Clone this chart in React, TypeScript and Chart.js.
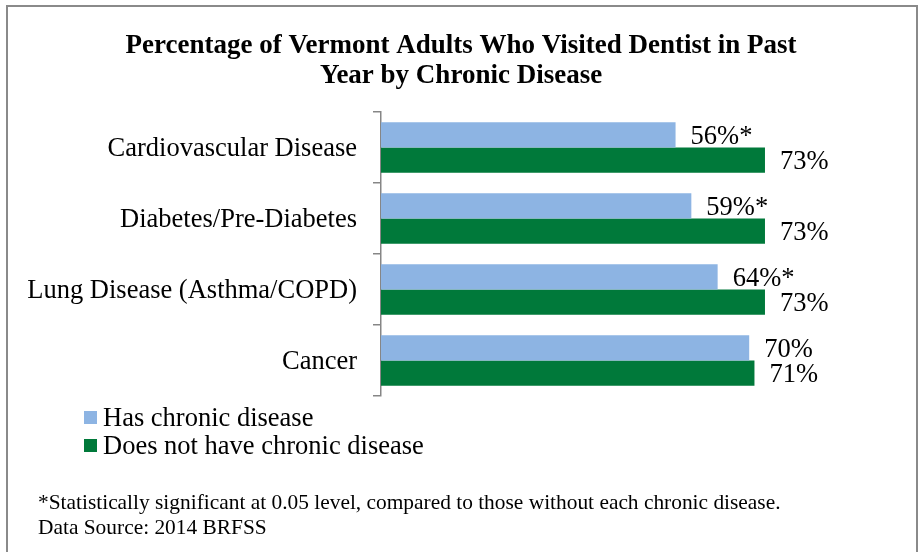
import React, { useEffect, useRef } from "react";
import { Chart, registerables } from "chart.js";

Chart.register(...registerables);

const categories = [
  "Cardiovascular Disease",
  "Diabetes/Pre-Diabetes",
  "Lung Disease (Asthma/COPD)",
  "Cancer",
];
const hasDisease = [56, 59, 64, 70];
const noDisease = [73, 73, 73, 71];
// true where the difference is statistically significant (marked with *)
const significant = [true, true, true, false];
const seriesNames = ["Has chronic disease", "Does not have chronic disease"];
const titleLines = [
  "Percentage of Vermont Adults Who Visited Dentist in Past",
  "Year by Chronic Disease",
];
const footnoteLines = [
  "*Statistically significant at 0.05 level, compared to those without each chronic disease.",
  "Data Source: 2014 BRFSS",
];

const SERIF = "'Liberation Serif', 'Times New Roman', serif";
const BLUE = "#8DB4E3";
const GREEN = "#00793A";
const AXIS_GRAY = "#868686";

// value labels to the right of each bar
const valueLabels = {
  id: "valueLabels",
  afterDatasetsDraw(chart: any) {
    const ctx = chart.ctx;
    ctx.save();
    ctx.font = `26.5px ${SERIF}`;
    ctx.fillStyle = "#000";
    ctx.textAlign = "left";
    ctx.textBaseline = "middle";
    chart.data.datasets.forEach((ds: any, di: number) => {
      const meta = chart.getDatasetMeta(di);
      meta.data.forEach((bar: any, i: number) => {
        const v = ds.data[i];
        const star = di === 0 && significant[i] ? "*" : "";
        ctx.fillText(`${v}%${star}`, bar.x + 15, bar.y + 2);
      });
    });
    ctx.restore();
  },
};

// stacked legend and footnote below the plot
const bottomText = {
  id: "bottomText",
  afterDraw(chart: any) {
    const ctx = chart.ctx;
    ctx.save();
    ctx.textAlign = "left";
    ctx.textBaseline = "middle";
    ctx.font = `26.5px ${SERIF}`;
    chart.data.datasets.forEach((ds: any, i: number) => {
      const y = 418 + i * 28;
      ctx.fillStyle = ds.backgroundColor;
      ctx.fillRect(84, y - 7, 13, 13);
      ctx.fillStyle = "#000";
      ctx.fillText(ds.label, 103, y + 1);
    });
    ctx.font = `21.4px ${SERIF}`;
    footnoteLines.forEach((line, i) => {
      ctx.fillText(line, 38, 503 + i * 25);
    });
    ctx.restore();
  },
};

export default function App() {
  const canvasRef = useRef<HTMLCanvasElement | null>(null);

  useEffect(() => {
    const canvas = canvasRef.current;
    if (!canvas) return;
    const chart = new Chart(canvas, {
      type: "bar",
      data: {
        labels: categories,
        datasets: [
          {
            label: seriesNames[0],
            data: hasDisease,
            backgroundColor: BLUE,
            categoryPercentage: 0.71,
            barPercentage: 1,
          },
          {
            label: seriesNames[1],
            data: noDisease,
            backgroundColor: GREEN,
            categoryPercentage: 0.71,
            barPercentage: 1,
          },
        ],
      },
      options: {
        indexAxis: "y",
        animation: false,
        responsive: false,
        maintainAspectRatio: false,
        layout: { padding: { top: 0, left: 15, right: 15, bottom: 156 } },
        scales: {
          x: { display: false, min: 0, max: 100 },
          y: {
            offset: true,
            grid: {
              offset: true,
              drawOnChartArea: false,
              drawTicks: true,
              tickLength: 8,
              color: AXIS_GRAY,
              lineWidth: 1.5,
            },
            border: { display: true, color: AXIS_GRAY, width: 1.5 },
            ticks: {
              color: "#000",
              font: { family: SERIF, size: 26.5 },
              padding: 16,
              labelOffset: 2,
            },
            afterFit(scale: any) {
              scale.width = 366;
            },
          },
        },
        plugins: {
          legend: { display: false },
          tooltip: { enabled: false },
          title: {
            display: true,
            text: titleLines,
            color: "#000",
            font: { family: SERIF, size: 27, weight: "bold", lineHeight: "30px" },
            padding: { top: 31, bottom: 21 },
          },
        },
      },
      plugins: [valueLabels, bottomText],
    });
    return () => chart.destroy();
  }, []);

  return (
    <div style={{ position: "absolute", left: 0, top: 0, width: 922, height: 552, background: "#fff" }}>
      <canvas ref={canvasRef} width={922} height={552} style={{ position: "absolute", left: 0, top: 0 }} />
      <div
        style={{
          position: "absolute",
          left: 6,
          top: 5,
          width: 912,
          height: 560,
          border: "2px solid #8a8a8a",
          pointerEvents: "none",
          boxSizing: "border-box",
        }}
      />
    </div>
  );
}
